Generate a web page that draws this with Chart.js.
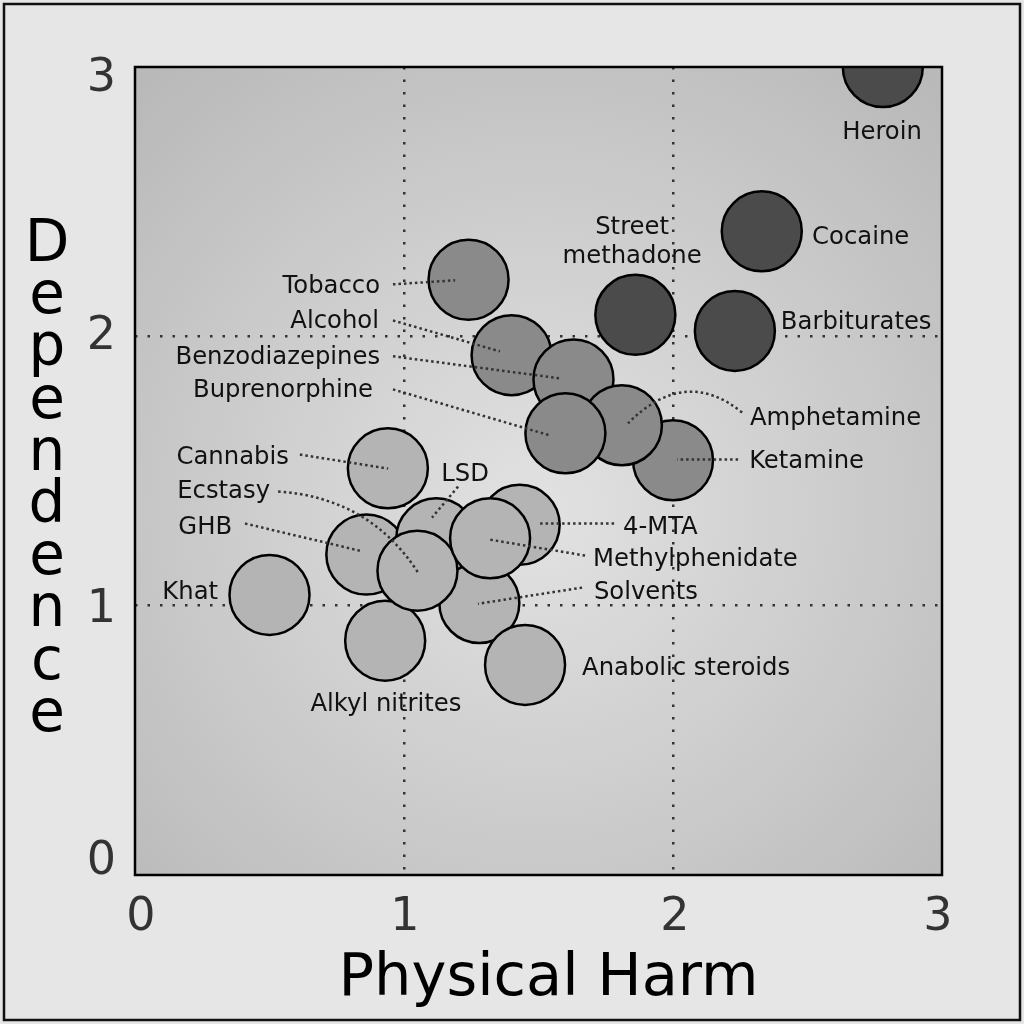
<!DOCTYPE html>
<html>
<head>
<meta charset="utf-8">
<script src="https://cdn.jsdelivr.net/npm/chart.js@4.4.1/dist/chart.umd.min.js"></script>
<style>
html, body { margin: 0; padding: 0; background: #e6e6e6; }
canvas { display: block; }
</style>
</head>
<body>
<canvas id="harmChart" width="1024" height="1024"></canvas>
<script>
// drawing order matters: later points sit on top of earlier ones
var drugs = ['Khat', 'GHB', 'LSD', '4-MTA', 'Solvents', 'Alkyl nitrites', 'Ecstasy', 'Methylphenidate',
    'Anabolic steroids', 'Cannabis', 'Tobacco', 'Alcohol', 'Benzodiazepines', 'Ketamine', 'Amphetamine',
    'Buprenorphine', 'Heroin', 'Cocaine', 'Street methadone', 'Barbiturates'];
var physicalHarm = [0.50, 0.86, 1.12, 1.43, 1.28, 0.93, 1.05, 1.32,
    1.45, 0.94, 1.24, 1.40, 1.63, 2.00, 1.81,
    1.60, 2.78, 2.33, 1.86, 2.23];
var dependence = [1.04, 1.19, 1.25, 1.30, 1.01, 0.87, 1.13, 1.25,
    0.78, 1.51, 2.21, 1.93, 1.84, 1.54, 1.67,
    1.64, 3.00, 2.39, 2.08, 2.02];
// 0 = light, 1 = medium, 2 = dark
var harmGroup = [0, 0, 0, 0, 0, 0, 0, 0,
    0, 0, 1, 1, 1, 1, 1,
    1, 2, 2, 2, 2];
var tickValues = [0, 1, 2, 3];
var xAxisTitle = 'Physical Harm';
var yAxisTitle = 'Dependence';

var groupColors = ['#b4b4b4', '#8a8a8a', '#4b4b4b'];
// tick labels in the original sit a little inward from the ends
var xTickNudge = [6, 1, 2, -4];
var yTickNudge = [-13, 4, 1, 12];

// label placement in data units; lead = dotted leader [start, (control), end]
var labelLayout = [
    { text: ['Heroin'], at: [2.777, 2.755], align: 'center' },
    { text: ['Cocaine'], at: [2.517, 2.367], align: 'left' },
    { text: ['Street', 'methadone'], at: [1.848, 2.405], align: 'center' },
    { text: ['Barbiturates'], at: [2.401, 2.050], align: 'left' },
    { text: ['Tobacco'], at: [0.911, 2.186], align: 'right', lead: [[0.959, 2.193], [1.190, 2.208]] },
    { text: ['Alcohol'], at: [0.907, 2.056], align: 'right', lead: [[0.959, 2.059], [1.357, 1.944]] },
    { text: ['Benzodiazepines'], at: [0.911, 1.920], align: 'right', lead: [[0.959, 1.926], [1.580, 1.844]] },
    { text: ['Buprenorphine'], at: [0.885, 1.800], align: 'right', lead: [[0.959, 1.803], [1.543, 1.632]] },
    { text: ['Cannabis'], at: [0.572, 1.548], align: 'right', lead: [[0.613, 1.561], [0.941, 1.509]] },
    { text: ['Ecstasy'], at: [0.502, 1.422], align: 'right', lead: [[0.532, 1.424], [0.874, 1.400], [1.052, 1.123]] },
    { text: ['GHB'], at: [0.361, 1.291], align: 'right', lead: [[0.409, 1.305], [0.836, 1.204]] },
    { text: ['Khat'], at: [0.309, 1.050], align: 'right' },
    { text: ['LSD'], at: [1.227, 1.485], align: 'center', lead: [[1.201, 1.442], [1.104, 1.327]] },
    { text: ['4-MTA'], at: [1.814, 1.291], align: 'left', lead: [[1.781, 1.305], [1.506, 1.305]] },
    { text: ['Methylphenidate'], at: [1.703, 1.169], align: 'left', lead: [[1.673, 1.186], [1.320, 1.245]] },
    { text: ['Solvents'], at: [1.706, 1.050], align: 'left', lead: [[1.662, 1.067], [1.275, 1.007]] },
    { text: ['Anabolic steroids'], at: [1.662, 0.767], align: 'left' },
    { text: ['Alkyl nitrites'], at: [0.933, 0.633], align: 'center' },
    { text: ['Amphetamine'], at: [2.286, 1.693], align: 'left', lead: [[2.257, 1.717], [2.045, 1.890], [1.833, 1.677]] },
    { text: ['Ketamine'], at: [2.283, 1.533], align: 'left', lead: [[2.242, 1.543], [2.015, 1.543]] }
];

var points = drugs.map(function(name, i) {
    return { x: physicalHarm[i], y: dependence[i], label: name };
});

function gridColor(c) {
    return (c.tick && (c.tick.value === 0 || c.tick.value === 3)) ? 'rgba(0,0,0,0)' : '#333';
}

var framePlugin = {
    id: 'frame',
    beforeDraw: function(chart) {
        var ctx = chart.ctx;
        var a = chart.chartArea;
        ctx.save();
        ctx.fillStyle = '#e6e6e6';
        ctx.fillRect(0, 0, chart.width, chart.height);
        ctx.strokeStyle = '#111';
        ctx.lineWidth = 2.5;
        ctx.strokeRect(4, 4, chart.width - 8, chart.height - 8);
        var cx = (a.left + a.right) / 2;
        var cy = a.top + (a.bottom - a.top) * 0.55;
        var g = ctx.createRadialGradient(cx, cy, 0, cx, cy, (a.right - a.left) * 0.72);
        g.addColorStop(0, '#e2e2e2');
        g.addColorStop(1, '#b9b9b9');
        ctx.fillStyle = g;
        ctx.fillRect(a.left, a.top, a.right - a.left, a.bottom - a.top);
        ctx.restore();
    },
    afterDatasetsDraw: function(chart) {
        var ctx = chart.ctx;
        var a = chart.chartArea;
        var xs = chart.scales.x, ys = chart.scales.y;
        function px(p) { return [xs.getPixelForValue(p[0]), ys.getPixelForValue(p[1])]; }

        ctx.save();
        // leaders
        ctx.strokeStyle = '#333';
        ctx.lineWidth = 2.5;
        ctx.setLineDash([2.5, 3]);
        labelLayout.forEach(function(l) {
            if (!l.lead) return;
            var p0 = px(l.lead[0]);
            ctx.beginPath();
            ctx.moveTo(p0[0], p0[1]);
            if (l.lead.length === 3) {
                var c = px(l.lead[1]), e = px(l.lead[2]);
                ctx.quadraticCurveTo(c[0], c[1], e[0], e[1]);
            } else {
                var e2 = px(l.lead[1]);
                ctx.lineTo(e2[0], e2[1]);
            }
            ctx.stroke();
        });
        ctx.setLineDash([]);

        // labels
        ctx.fillStyle = '#111';
        ctx.font = '24.3px "DejaVu Sans"';
        ctx.textBaseline = 'middle';
        labelLayout.forEach(function(l) {
            var p = px(l.at);
            ctx.textAlign = l.align;
            l.text.forEach(function(line, k) {
                ctx.fillText(line, p[0], p[1] + k * 29);
            });
        });

        // plot border
        ctx.strokeStyle = '#000';
        ctx.lineWidth = 2.5;
        ctx.strokeRect(a.left, a.top, a.right - a.left, a.bottom - a.top);

        // tick labels, placed from the scales
        ctx.fillStyle = '#333';
        ctx.font = '46px "DejaVu Sans"';
        ctx.textBaseline = 'middle';
        ctx.textAlign = 'center';
        xs.ticks.forEach(function(t, i) {
            ctx.fillText(String(t.value), xs.getPixelForValue(t.value) + xTickNudge[i], a.bottom + 43);
        });
        ctx.textAlign = 'right';
        ys.ticks.forEach(function(t, i) {
            ctx.fillText(String(t.value), a.left - 19, ys.getPixelForValue(t.value) + yTickNudge[i]);
        });

        // axis titles
        ctx.fillStyle = '#000';
        ctx.font = '59px "DejaVu Sans"';
        ctx.textAlign = 'center';
        ctx.fillText(xAxisTitle, (a.left + a.right) / 2 + 10, 980);
        ctx.font = '58px "DejaVu Sans"';
        yAxisTitle.split('').forEach(function(ch, k) {
            ctx.fillText(ch, 47, 246 + k * 52.2);
        });
        ctx.restore();
    }
};

var canvasElement = document.getElementById('harmChart');
var configure = {
    type: 'scatter',
    data: {
        datasets: [{
            label: 'Drugs',
            data: points,
            backgroundColor: harmGroup.map(function(g) { return groupColors[g]; }),
            borderColor: '#000',
            borderWidth: 2.5,
            pointRadius: 40,
            pointHoverRadius: 40,
            clip: 0
        }]
    },
    options: {
        responsive: false,
        devicePixelRatio: 1,
        animation: false,
        events: [],
        layout: { padding: { top: 67, right: 82, left: 0, bottom: 0 } },
        plugins: {
            legend: { display: false },
            tooltip: { enabled: false }
        },
        scales: {
            x: {
                type: 'linear',
                min: 0,
                max: 3,
                afterFit: function(scale) { scale.height = 149; },
                afterBuildTicks: function(scale) {
                    scale.ticks = tickValues.map(function(v) { return { value: v }; });
                },
                border: { display: false, dash: [2.5, 10] },
                grid: { drawTicks: false, lineWidth: 2.5, color: gridColor },
                ticks: { display: false }
            },
            y: {
                type: 'linear',
                min: 0,
                max: 3,
                afterFit: function(scale) { scale.width = 135; },
                afterBuildTicks: function(scale) {
                    scale.ticks = tickValues.map(function(v) { return { value: v }; });
                },
                border: { display: false, dash: [2.5, 10] },
                grid: { drawTicks: false, lineWidth: 2.5, color: gridColor },
                ticks: { display: false }
            }
        }
    },
    plugins: [framePlugin]
};

var harmChart = new Chart(canvasElement, configure);
</script>
</body>
</html>
